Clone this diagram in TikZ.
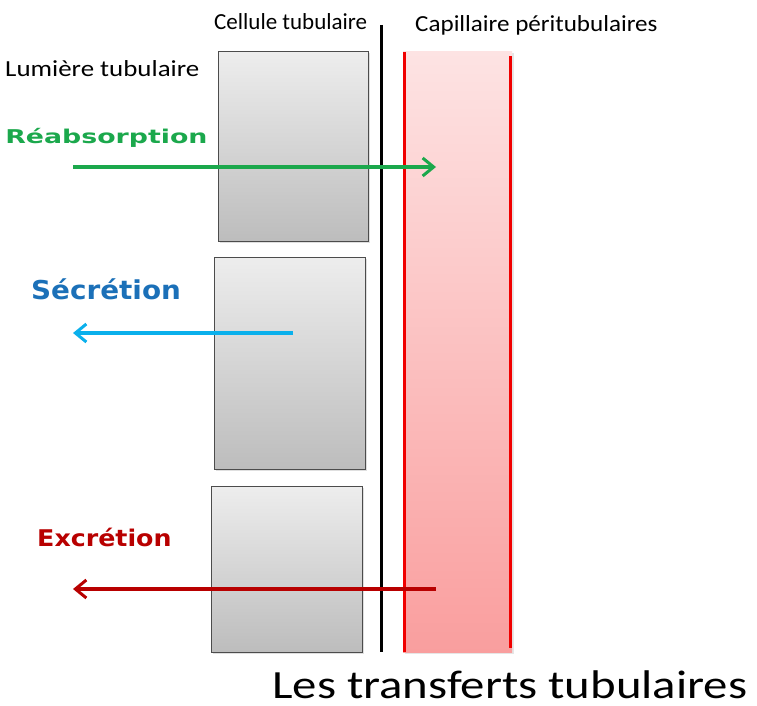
\documentclass[tikz,border=0pt]{standalone}
\usepackage{fontspec}
\setmainfont{Carlito}
\newfontfamily\boldlabel{DejaVu Sans}
\usetikzlibrary{arrows.meta, shadows}
\definecolor{ReabGreen}{HTML}{1BA84C}
\definecolor{SecBlue}{HTML}{1B70B8}
\definecolor{SecCyan}{HTML}{0AB0EC}
\definecolor{ExcRed}{HTML}{B80000}
\definecolor{CapRed}{HTML}{F00000}

\begin{document}
\begin{tikzpicture}[x=1pt, y=-1pt, >={Straight Barb[length=11pt, width=18pt, line width=3pt]},
                cellbox/.style={rectangle, draw=black!70, line width=1pt, inner sep=0pt, top color=black!7, bottom color=black!26, drop shadow={opacity=0.25, shadow xshift=1.5pt, shadow yshift=-1.5pt}},
                label/.style={font=\fontsize{22}{24}\selectfont, anchor=base west, inner sep=0pt},
                flux/.style={font=\boldlabel\bfseries, anchor=base west, inner sep=0pt},
                flow/.style={->, line width=3.5pt}]
                \useasboundingbox (0,0) rectangle (757,706);
                % cellules tubulaires
                \node[cellbox, minimum width=150pt, minimum height=189pt] (c1) at (293,146.5) {};
                \node[cellbox, minimum width=151pt, minimum height=212pt] (c2) at (289.5,363) {};
                \node[cellbox, minimum width=151pt, minimum height=166pt] (c3) at (286.5,569) {};
                % capillaire
                \node[rectangle, inner sep=0pt, minimum width=109pt, minimum height=600pt, top color=CapRed!11, bottom color=CapRed!38, drop shadow={opacity=0.2, shadow xshift=1.5pt, shadow yshift=-1.5pt}] (cap) at (457.5,352) {};
                \draw[CapRed, line width=3pt] ([xshift=1.5pt]cap.north west) -- ([xshift=1.5pt]cap.south west);
                \draw[CapRed, line width=3pt] ([xshift=-2pt, yshift=-4pt]cap.north east) -- ([xshift=-2pt, yshift=4pt]cap.south east);
                % membrane
                \draw[line width=3pt] (381,25) -- (381,652);

                \node[label, font=\fontsize{23}{25}\selectfont] (tcell) at (214,30) {Cellule tubulaire};
                \node[label, font=\fontsize{23}{25}\selectfont, xscale=1.09] (tcap) at (415,32) {Capillaire péritubulaires};
                \node[label, font=\fontsize{23}{25}\selectfont, xscale=1.17] (tlum) at (5,77) {Lumière tubulaire};
                \node[flux, ReabGreen, font=\boldlabel\bfseries\fontsize{19}{22}\selectfont, xscale=1.41] (treab) at (5,143) {Réabsorption};
                \node[flux, SecBlue, font=\boldlabel\bfseries\fontsize{26}{28}\selectfont, xscale=1.07] (tsec) at (31,299) {Sécrétion};
                \node[flux, ExcRed, font=\boldlabel\bfseries\fontsize{23}{25}\selectfont, xscale=1.1] (texc) at (37,546) {Excrétion};
                \node[label, font=\fontsize{40}{42}\selectfont, xscale=1.22] (ttitle) at (272,698) {Les transferts tubulaires};

                \coordinate (r0) at (73,167);
                \coordinate (r1) at (436,167);
                \coordinate (s0) at (293,333);
                \coordinate (s1) at (73,333);
                \coordinate (e0) at (436,589);
                \coordinate (e1) at (73,589);
                \draw[flow, ReabGreen] (r0) -- (r1);
                \draw[flow, SecCyan] (s0) -- (s1);
                \draw[flow, ExcRed] (e0) -- (e1);
            \end{tikzpicture}
\end{document}
